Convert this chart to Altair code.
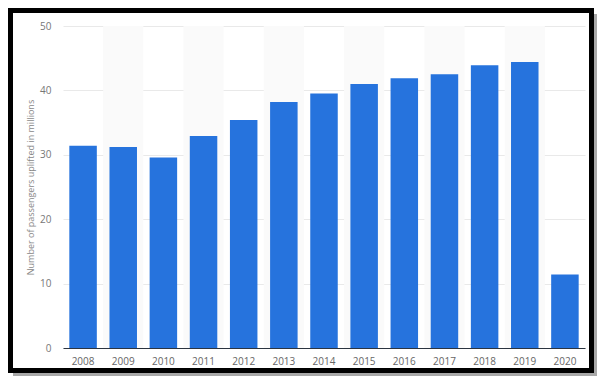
import altair as alt
import pandas as pd

years = ["2008", "2009", "2010", "2011", "2012", "2013", "2014",
         "2015", "2016", "2017", "2018", "2019", "2020"]
passengers = [31.4, 31.2, 29.6, 32.9, 35.4, 38.2, 39.5,
              41.0, 41.9, 42.5, 43.9, 44.4, 11.4]
shaded_years = ["2009", "2011", "2013", "2015", "2017", "2019"]
y_ticks = [0, 10, 20, 30, 40, 50]

df = pd.DataFrame({"year": years, "value": passengers})
bands = pd.DataFrame({"year": shaded_years, "value": [50] * len(shaded_years)})
one = pd.DataFrame({"k": [0]})

FONT = "Open Sans"
PAD_IN = 0.315

xscale = alt.Scale(domain=years, paddingInner=PAD_IN, paddingOuter=PAD_IN / 2)
yscale = alt.Scale(domain=[0, 50], nice=False)

x_axis = alt.Axis(title=None, labelAngle=0, ticks=False, bandPosition=0.5,
                  domain=True, domainColor="#2b3440", domainWidth=1.2,
                  labelColor="#666666", labelFontSize=10, labelFont=FONT,
                  labelPadding=8, grid=False)
y_axis = alt.Axis(values=y_ticks, title="Number of passengers uplifted in millions",
                  titleFontSize=9, titleColor="#888888", titleFontWeight="normal",
                  titleFont=FONT, titlePadding=4,
                  labelColor="#777777", labelFontSize=10, labelFont=FONT,
                  labelPadding=12, ticks=False, domain=False,
                  gridColor="#e9e9e9", gridWidth=1)

band_layer = alt.Chart(bands).mark_bar(
    color="#fafafa", width=alt.RelativeBandSize(1 / (1 - PAD_IN))
).encode(
    x=alt.X("year:N", scale=xscale, sort=years, axis=x_axis),
    y=alt.Y("value:Q", scale=yscale, axis=y_axis),
)

bars = alt.Chart(df).mark_bar(color="#2673dd").encode(
    x=alt.X("year:N", scale=xscale, sort=years, axis=x_axis),
    y=alt.Y("value:Q", scale=yscale, axis=y_axis),
)

shadow_r = alt.Chart(one).mark_rect(color="#a8a8a8").encode(
    x=alt.value(529), x2=alt.value(534), y=alt.value(-12), y2=alt.value(350))
shadow_b = alt.Chart(one).mark_rect(color="#a8a8a8").encode(
    x=alt.value(-50), x2=alt.value(534), y=alt.value(345), y2=alt.value(350))
frame = alt.Chart(one).mark_rect(fill="transparent", stroke="#000000", strokeWidth=5).encode(
    x=alt.value(-52.5), x2=alt.value(528.5), y=alt.value(-15.5), y2=alt.value(344.5))

chart = alt.layer(band_layer, bars, shadow_r, shadow_b, frame).properties(
    width=522, height=322,
    padding={"left": 55, "top": 18, "right": 12, "bottom": 28},
    autosize=alt.AutoSizeParams(type="none"),
    background="white",
).configure_view(stroke=None)

chart.save("out.html", embed_options={"renderer": "svg", "actions": False})
